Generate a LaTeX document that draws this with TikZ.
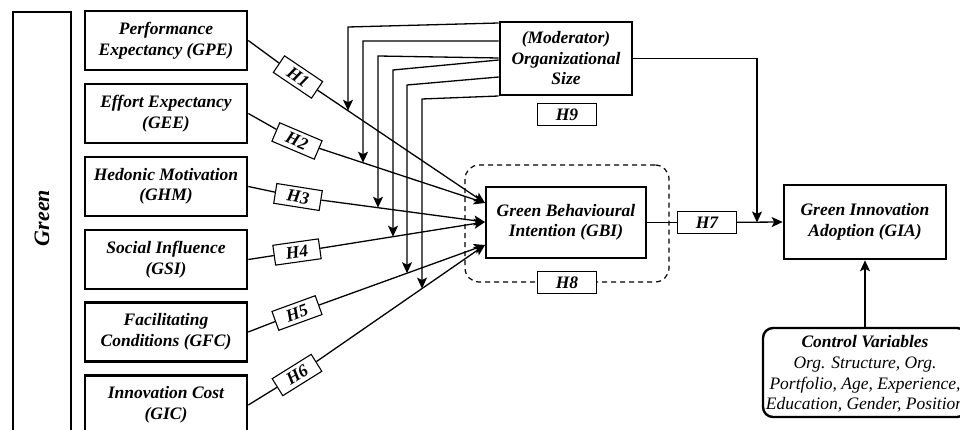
\documentclass[tikz,border=0pt]{standalone}
\usepackage{fontspec}
\setmainfont{Liberation Serif}
\usetikzlibrary{arrows.meta,calc}
\begin{document}
\begin{tikzpicture}[x=1pt,y=-1pt,
  txt/.style={font=\fontsize{17.5}{20.5}\selectfont\bfseries\itshape},
  construct/.style={txt,draw,line width=2.6pt,align=center,inner sep=0pt,
    minimum width=162pt,minimum height=59pt},
  hyp/.style={txt,draw,fill=white,line width=1.1pt,inner sep=0pt,
    minimum width=46pt,minimum height=20pt},
  hypflat/.style={hyp,minimum width=59pt,minimum height=22pt},
  link/.style={line width=1.3pt},
  arr/.style={link,-{Stealth[length=11pt,width=10pt,inset=2.5pt]}},
]
\useasboundingbox (0,0) rectangle (960,430);

% left column frame
\node[construct,minimum width=58pt,minimum height=430pt] (green) at (42,227) {};
\node[txt,font=\fontsize{22}{26}\selectfont\bfseries\itshape,rotate=90] (greenlabel) at (42,218) {Green};

% predictors
\node[construct] (gpe) at (166,40.5)  {Performance\\Expectancy (GPE)};
\node[construct] (gee) at (166,113.5) {Effort Expectancy\\(GEE)};
\node[construct] (ghm) at (166,186.5) {Hedonic Motivation\\(GHM)};
\node[construct] (gsi) at (166,259.5) {Social Influence\\(GSI)};
\node[construct] (gfc) at (166,332)   {Facilitating\\Conditions (GFC)};
\node[construct] (gic) at (166,405)   {Innovation Cost\\(GIC)};

% mediator with its dashed frame
\node[draw,line width=1.2pt,dash pattern=on 5pt off 4pt,rounded corners=14pt,
      minimum width=204pt,minimum height=117pt] (mframe) at (567,223.5) {};
\node[construct,minimum width=160pt,minimum height=71pt] (gbi) at (566,222.5)
  {Green Behavioural\\Intention (GBI)};
\node[hypflat] (h8) at (mframe.south) {H8};

% moderator
\node[construct,minimum width=132pt,minimum height=73pt] (mod) at (566,58.5)
  {(Moderator)\\Organizational\\Size};
\node[hypflat] (h9) at (567,114.5) {H9};

% outcome
\node[construct,minimum width=162pt,minimum height=74pt] (gia) at (865,222)
  {Green Innovation\\Adoption (GIA)};
\node[hypflat] (h7) at (707,222.5) {H7};

% controls
\node[draw,line width=2.4pt,rounded corners=10pt,minimum width=204pt,
      minimum height=89pt,inner sep=0pt] (ctrl) at (865,372.5) {};
\node[align=center,font=\fontsize{17.5}{20.7}\selectfont\itshape] (ctrltext) at (865,374)
  {\textbf{Control Variables}\\Org. Structure, Org.\\Portfolio, Age, Experience,\\Education, Gender, Position};

% hypothesis tags on the paths
\node[hyp,rotate=-34] (h1) at (298,77)  {H1};
\node[hyp,rotate=-23] (h2) at (297,141) {H2};
\node[hyp,rotate=-9]  (h3) at (298,197) {H3};
\node[hyp,rotate=8]   (h4) at (297,252) {H4};
\node[hyp,rotate=20]  (h5) at (297,313) {H5};
\node[hyp,rotate=32]  (h6) at (297,375) {H6};

% arrow targets on the GBI box
\coordinate (t1) at (485,203);
\coordinate (t2) at (485,222);
\coordinate (t3) at (485,245);

\draw[link] (gpe.east) -- (h1); \draw[arr] (h1) -- (t1);
\draw[link] (gee.east) -- (h2); \draw[arr] (h2) -- (t1);
\draw[link] (ghm.east) -- (h3); \draw[arr] (h3) -- (t2);
\draw[link] (gsi.east) -- (h4); \draw[arr] (h4) -- (t2);
\draw[link] (gfc.east) -- (h5); \draw[arr] (h5) -- (t3);
\draw[link] (gic.east) -- (h6); \draw[arr] (h6) -- (t3);

% moderating arrows onto each path
\coordinate (b1) at (348,27);
\coordinate (b2) at (363,41);
\coordinate (b3) at (378,56);
\coordinate (b4) at (393,70);
\coordinate (b5) at (407,85);
\coordinate (b6) at (422,99);
\coordinate (k1) at ($(h1)!{(348-298)/(485-298)}!(t1)$);
\coordinate (k2) at ($(h2)!{(363-297)/(485-297)}!(t1)$);
\coordinate (k3) at ($(h3)!{(378-298)/(485-298)}!(t2)$);
\coordinate (k4) at ($(h4)!{(393-297)/(485-297)}!(t2)$);
\coordinate (k5) at ($(h5)!{(407-297)/(485-297)}!(t3)$);
\coordinate (k6) at ($(h6)!{(422-297)/(485-297)}!(t3)$);
\draw[arr] (mod.west |- 0,23) -- (b1) -- (k1);
\draw[arr] (mod.west |- 0,41) -- (b2) -- (k2);
\draw[arr] (mod.west |- 0,58) -- (b3) -- (k3);
\draw[arr] (mod.west |- 0,60) -- (b4) -- (k4);
\draw[arr] (mod.west |- 0,77) -- (b5) -- (k5);
\draw[arr] (mod.west |- 0,96) -- (b6) -- (k6);

% mediator to outcome, with moderation
\draw[link] (gbi.east) -- (h7);
\draw[arr] (h7) -- (gia.west);
\coordinate (drop) at (757,222.5);
\draw[arr] (mod.east) -| (drop);

% controls to outcome
\draw[arr] (ctrl.north) -- (gia.south);
\end{tikzpicture}
\end{document}
